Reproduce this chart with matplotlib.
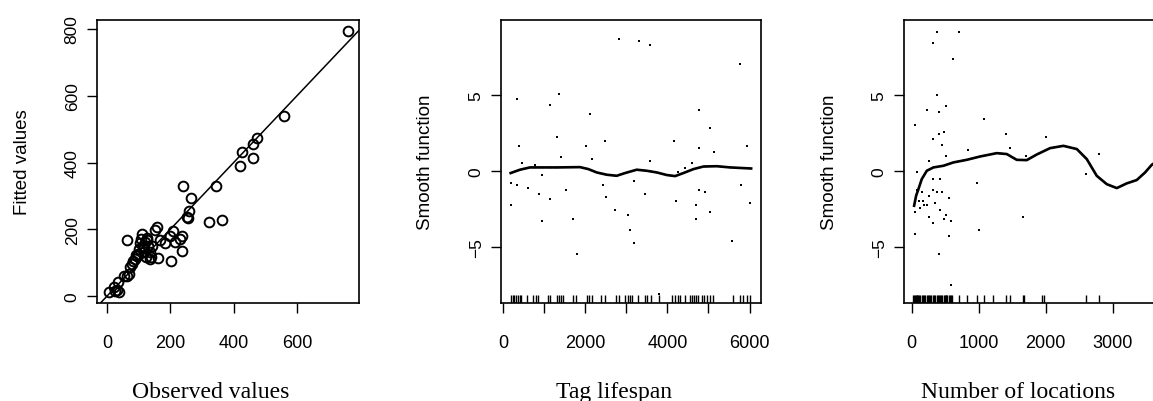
import numpy as np
import matplotlib
matplotlib.use("Agg")
import matplotlib.pyplot as plt

# panel 1: observed vs fitted
observed = [6, 22, 30, 33, 36, 26, 54, 62, 63, 69, 71, 83, 88, 92, 96, 109, 107, 112, 115,
            120, 123, 127, 130, 134, 136, 138, 152, 157, 162, 167, 184, 199, 202, 207, 215,
            230, 236, 237, 241, 252, 255, 260, 265, 323, 345, 363, 421, 426, 460, 462, 474,
            559, 761, 100, 105, 118, 125, 142, 78, 95]
fitted = [11, 26, 19, 43, 11, 14, 61, 61, 169, 66, 86, 106, 111, 123, 126, 186, 171, 151, 131,
          161, 116, 169, 149, 131, 111, 116, 199, 206, 114, 169, 158, 181, 104, 196, 163,
          171, 181, 136, 331, 236, 233, 256, 294, 223, 331, 229, 391, 431, 414, 455, 472,
          538, 795, 140, 160, 145, 175, 150, 95, 120]

# panel 2: tag lifespan
life_x = [179, 179, 333, 333, 374, 447, 593, 772, 862, 935, 935, 1130, 1130, 1301, 1350, 1398,
          1520, 1699, 1789, 2008, 2114, 2163, 2431, 2472, 2496, 2715, 2821, 3033, 3081, 3179,
          3179, 3301, 3447, 3569, 3577, 3797, 4154, 4203, 4252, 4431, 4593, 4691, 4691, 4764,
          4764, 4764, 4911, 5033, 5033, 5130, 5569, 5764, 5789, 5935, 6008]
life_res = [-2.26, -0.79, 4.74, -0.92, 1.64, 0.50, -1.14, 0.39, -1.51, -0.26, -3.29, 4.34, -1.84,
            2.24, 5.04, 0.92, -1.27, -3.16, -5.48, 1.64, 3.73, 0.77, -0.92, 1.97, -1.71, -2.57,
            8.66, -2.89, -3.88, -0.68, -4.76, 8.53, -1.51, 8.27, 0.64, -8.09, 1.97, -1.97,
            -0.07, 0.18, 0.50, -2.24, -3.16, 4.01, 1.51, -1.27, -1.38, 2.83, -2.70, 1.23,
            -4.61, 7.04, -0.92, 1.64, -2.11]
life_fx = [179, 407, 650, 894, 1300, 1870, 2073, 2276, 2520, 2764, 2967, 3252, 3496, 3740, 3984,
           4187, 4390, 4634, 4878, 5203, 5528, 6040]
life_fy = [-0.15, 0.07, 0.22, 0.22, 0.22, 0.24, 0.11, -0.11, -0.26, -0.33, -0.15, 0.07, 0.0,
           -0.11, -0.28, -0.35, -0.15, 0.11, 0.28, 0.30, 0.22, 0.15]
life_rug = [190, 230, 270, 310, 350, 400, 440, 580, 720, 790, 850, 1090, 1140, 1310, 1360, 1400,
            1450, 1700, 1770, 2040, 2100, 2160, 2380, 2480, 2740, 2820, 2970, 3030, 3080, 3140,
            3290, 3450, 3500, 3600, 3800, 4110, 4190, 4260, 4310, 4430, 4550, 4600, 4650, 4700,
            4750, 4840, 4900, 4960, 5030, 5110, 5600, 5770, 5850, 5940, 6020]

# panel 3: number of locations
loc_x = [50, 50, 50, 75, 85, 114, 124, 149, 174, 184, 224, 224, 254, 254, 254, 313, 313, 313, 313,
         313, 348, 373, 373, 373, 403, 403, 423, 423, 403, 453, 453, 483, 483, 507, 507, 512,
         552, 552, 582, 582, 612, 701, 841, 970, 1000, 1075, 1403, 1468, 1657, 1706, 2000, 2602,
         2796]
loc_res = [3.0, -2.70, -4.17, -0.11, -1.27, -1.97, -2.46, -1.38, -1.97, -2.24, -2.24, 4.01, 0.64,
           -1.64, -3.03, 8.42, 2.11, -0.55, -1.27, -3.42, -2.11, 9.14, 5.0, -1.38, 3.88, 2.41,
           -0.55, -2.57, -5.48, 1.71, -1.38, 2.57, -3.16, 4.28, 0.99, -2.92, -1.82, -4.30, -3.29,
           -7.52, 7.35, 9.14, 1.36, -0.79, -3.88, 3.42, 2.41, 1.51, -3.03, 0.99, 2.24, -0.20,
           1.10]
loc_fx = [35, 65, 100, 149, 224, 323, 473, 622, 821, 1020, 1269, 1418, 1567, 1716, 1866, 2065,
          2264, 2463, 2612, 2761, 2910, 3060, 3209, 3358, 3483, 3582, 3650]
loc_fy = [-2.3, -1.64, -1.2, -0.55, 0.0, 0.22, 0.33, 0.55, 0.72, 0.94, 1.16, 1.10, 0.72, 0.70,
          1.07, 1.49, 1.64, 1.43, 0.77, -0.33, -0.88, -1.14, -0.83, -0.61, -0.11, 0.39, 0.6]
loc_rug = [25, 40, 50, 60, 75, 85, 100, 115, 125, 150, 175, 185, 200, 225, 240, 255, 270, 290,
           313, 330, 348, 373, 390, 403, 423, 440, 453, 483, 495, 507, 512, 530, 552, 570, 582,
           600, 700, 820, 970, 1080, 1210, 1400, 1460, 1660, 1680, 1950, 1970, 2600, 2790]

W, H = 1153, 402
fig = plt.figure(figsize=(W / 100, H / 100), dpi=100)

def box(left_px, width_px):
    return [left_px / W, 1 - 304 / H, width_px / W, (304 - 21) / H]

tickfont = 'Liberation Sans'

def style(ax, width_px, ylab):
    for s in ax.spines.values():
        s.set_linewidth(1.2)
    ax.tick_params(axis='both', length=7.5, width=1, color='black')
    ax.tick_params(axis='x', pad=15, labelsize=13)
    ax.tick_params(axis='y', pad=5, labelsize=12.5)
    for lab in ax.get_yticklabels():
        lab.set_rotation(90)
        lab.set_va('center')
        lab.set_family(tickfont)
    for lab in ax.get_xticklabels():
        lab.set_family(tickfont)
    ax.set_ylabel(ylab, fontsize=13.5, family=tickfont, va='center')
    ax.yaxis.set_label_coords(-75 / width_px, 0.5)

# panel 1
ax1 = fig.add_axes(box(97, 262))
ax1.plot(observed, fitted, 'o', mfc='none', mec='black', ms=7, mew=1.4)
ax1.axline((0, 0), slope=1, color='black', lw=1.1)
ax1.set_xlim(-32, 796)
ax1.set_ylim(-21, 827)
ax1.set_xticks([0, 200, 400, 600])
ax1.set_yticks([0, 200, 400, 600, 800])
style(ax1, 262, 'Fitted values')

# panel 2
ax2 = fig.add_axes(box(501, 260))
ax2.plot(life_x, life_res, 's', color='black', ms=1.7, mew=0)
ax2.plot(life_fx, life_fy, '-', color='black', lw=1.9)
ax2.plot(life_fx, life_fy, '--', color='black', lw=1)
ax2.vlines(life_rug, 0, 0.028, transform=ax2.get_xaxis_transform(), color='black', lw=1)
ax2.set_xlim(-56, 6280)
ax2.set_ylim(-8.70, 9.92)
ax2.set_xticks([0, 1000, 2000, 3000, 4000, 5000, 6000])
ax2.set_xticklabels(['0', '', '2000', '', '4000', '', '6000'])
ax2.set_yticks([-5, 0, 5])
style(ax2, 260, 'Smooth function')

# panel 3 (runs off the right edge)
ax3 = fig.add_axes(box(904, 262))
ax3.plot(loc_x, loc_res, 's', color='black', ms=1.7, mew=0)
ax3.plot(loc_fx, loc_fy, '-', color='black', lw=1.9)
ax3.plot(loc_fx, loc_fy, '--', color='black', lw=1)
ax3.vlines(loc_rug, 0, 0.028, transform=ax3.get_xaxis_transform(), color='black', lw=1)
ax3.set_xlim(-116, 3795)
ax3.set_ylim(-8.70, 9.92)
ax3.set_xticks([0, 1000, 2000, 3000])
ax3.set_yticks([-5, 0, 5])
style(ax3, 262, 'Smooth function')

for xc, txt in [(211, 'Observed values'), (614, 'Tag lifespan'), (1018, 'Number of locations')]:
    fig.text(xc / W, 1 - 398 / H, txt, ha='center', va='baseline',
             fontsize=17, family='Liberation Serif')

fig.savefig('out.png', dpi=100)
